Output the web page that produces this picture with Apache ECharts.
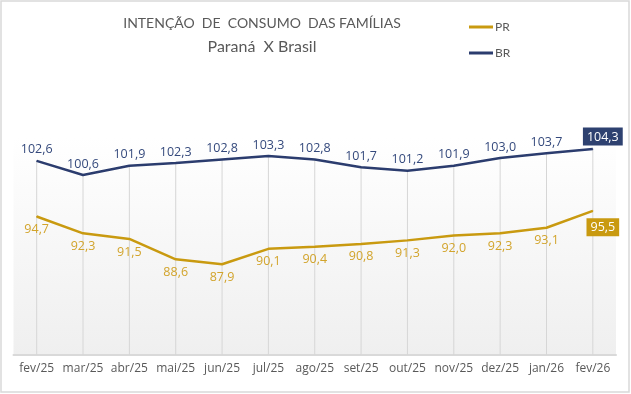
<!DOCTYPE html>
<html>
<head>
<meta charset="utf-8">
<script src="https://cdn.jsdelivr.net/npm/echarts@6/dist/echarts.min.js"></script>
<style>
  html, body { margin: 0; padding: 0; background: #ffffff; }
  #chart { width: 631px; height: 394px; }
</style>
</head>
<body>
<div id="chart"></div>
<script>
const categories = ['fev/25', 'mar/25', 'abr/25', 'mai/25', 'jun/25', 'jul/25', 'ago/25', 'set/25', 'out/25', 'nov/25', 'dez/25', 'jan/26', 'fev/26'];
const prValues = [94.7, 92.3, 91.5, 88.6, 87.9, 90.1, 90.4, 90.8, 91.3, 92.0, 92.3, 93.1, 95.5];
const brValues = [102.6, 100.6, 101.9, 102.3, 102.8, 103.3, 102.8, 101.7, 101.2, 101.9, 103.0, 103.7, 104.3];
const seriesNames = ['PR', 'BR'];
const titleText = 'INTENÇÃO  DE  CONSUMO  DAS FAMÍLIAS';
const subtitleText = 'Paraná  X Brasil';

const fmt = function (p) { return Number(p.value).toFixed(1).replace('.', ','); };
const FONT = "'Open Sans', 'Noto Sans', sans-serif";
const TFONT = "Lato, 'Open Sans', sans-serif";

const BR_LINE = '#2B3C6E', BR_TEXT = '#34497C', BR_BOX = '#2E4170';
const PR_LINE = '#C99A10', PR_TEXT = '#D2A42C', PR_BOX = '#C99A10';

const last = categories.length - 1;
const brData = brValues.map(function (v, i) {
  if (i !== last) return v;
  return { value: v, label: { backgroundColor: BR_BOX, color: '#ffffff', padding: [3, 4, 2, 4], offset: [10, 1] } };
});
const prData = prValues.map(function (v, i) {
  if (i !== last) return v;
  return { value: v, label: { backgroundColor: PR_BOX, color: '#ffffff', padding: [3, 4, 2, 4], offset: [10, 1] } };
});

const chart = echarts.init(document.getElementById('chart'), null, { renderer: 'canvas' });
chart.setOption({
  animation: false,
  backgroundColor: '#ffffff',
  textStyle: { fontFamily: FONT },
  graphic: [{
    type: 'rect', silent: true, z: -10,
    shape: { x: 1, y: 1, width: 628, height: 391 },
    style: { fill: 'none', stroke: '#d9d9d9', lineWidth: 1.5 }
  }],
  title: [
    { text: titleText, left: 262, top: 16, textAlign: 'center', padding: 0,
      textStyle: { fontFamily: TFONT, fontSize: 14, fontWeight: 'normal', color: '#595959' } },
    { text: subtitleText, left: 262, top: 39, textAlign: 'center', padding: 0,
      textStyle: { fontFamily: TFONT, fontSize: 16, fontWeight: 'normal', color: '#595959' } }
  ],
  legend: {
    data: seriesNames,
    orient: 'vertical',
    left: 469, top: 21,
    itemWidth: 24, itemHeight: 3, itemGap: 14,
    icon: 'rect',
    padding: 0,
    textStyle: { color: '#595959', fontSize: 12, fontFamily: TFONT, padding: [0, 0, 0, -3] }
  },
  grid: {
    left: 13.5, right: 15, top: 137, bottom: 39,
    show: true, borderWidth: 0,
    backgroundColor: new echarts.graphic.LinearGradient(0, 0, 0, 1, [
      { offset: 0, color: '#ffffff' },
      { offset: 1, color: '#efefef' }
    ])
  },
  xAxis: {
    type: 'category',
    data: categories,
    boundaryGap: true,
    axisLine: { show: true, lineStyle: { color: '#d9d9d9', width: 2 } },
    axisTick: { show: false },
    splitLine: { show: false },
    axisLabel: { color: '#595959', fontSize: 12, margin: 8, interval: 0 }
  },
  yAxis: {
    type: 'value', min: 75, max: 106, show: false,
    splitLine: { show: false }
  },
  series: [
    {
      name: 'drop', type: 'bar', data: brValues, barWidth: 1, silent: true,
      clip: true, z: 1,
      itemStyle: { color: '#d6d6d6' },
      label: { show: false }, legendHoverLink: false
    },
    {
      name: 'BR', type: 'line', data: brData, z: 3,
      showSymbol: true, symbol: 'circle', symbolSize: 1,
      lineStyle: { color: BR_LINE, width: 2.5 },
      itemStyle: { color: BR_LINE },
      label: { show: true, position: 'top', distance: 4, color: BR_TEXT, fontSize: 12.5, formatter: fmt }
    },
    {
      name: 'PR', type: 'line', data: prData, z: 3,
      showSymbol: true, symbol: 'circle', symbolSize: 1,
      lineStyle: { color: PR_LINE, width: 2.5 },
      itemStyle: { color: PR_LINE },
      label: { show: true, position: 'bottom', distance: 6, color: PR_TEXT, fontSize: 12.5, formatter: fmt }
    }
  ]
});
</script>
</body>
</html>
